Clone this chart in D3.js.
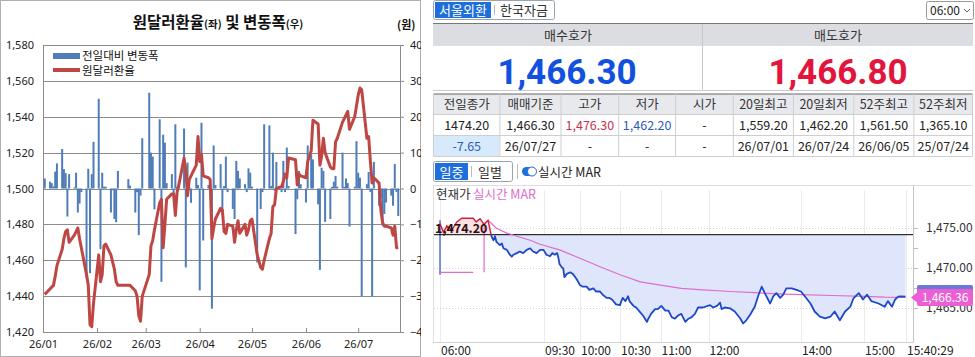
<!DOCTYPE html>
<html>
<head>
<meta charset="utf-8">
<script src="https://cdn.jsdelivr.net/npm/d3@7"></script>
<style>
body { margin: 0; background: #fff; }
svg { display: block; font-family: "Noto Sans CJK KR", "Noto Sans", sans-serif; }
</style>
</head>
<body>
<svg id="chart" width="975" height="357"></svg>
<script>
// ---- daily chart data (2026, trading days) ----
var dates = ["01/02","01/05","01/06","01/07","01/08","01/09","01/12","01/13","01/14","01/15","01/16","01/19","01/20","01/21","01/22","01/23","01/26","01/27","01/28","01/29","01/30",
  "02/02","02/03","02/04","02/05","02/06","02/09","02/10","02/11","02/12","02/13","02/19","02/20","02/23","02/24","02/25","02/26","02/27",
  "03/03","03/04","03/05","03/06","03/09","03/10","03/11","03/12","03/13","03/16","03/17","03/18","03/19","03/20","03/23","03/24","03/25","03/26","03/27","03/30","03/31",
  "04/01","04/02","04/03","04/06","04/07","04/08","04/09","04/10","04/13","04/14","04/15","04/16","04/17","04/20","04/21","04/22","04/23","04/24","04/27","04/28","04/29","04/30",
  "05/01","05/04","05/06","05/07","05/08","05/11","05/12","05/13","05/14","05/15","05/18","05/19","05/20","05/21","05/22","05/26","05/27","05/28","05/29",
  "06/01","06/02","06/04","06/05","06/08","06/09","06/10","06/11","06/12","06/15","06/16","06/17","06/18","06/19","06/22","06/23","06/24","06/25","06/26","06/29","06/30",
  "07/01","07/02","07/03","07/06","07/07","07/08","07/09","07/10","07/13","07/14","07/15","07/16","07/17","07/20","07/21","07/22","07/23","07/24"];
var rate = [1441,1444,1445,1446,1451,1457,1466,1472,1476,1477,1470,1474,1476,1478,1472,1467,1452,1446,1424,1423,1436,
  1463,1448,1452,1468,1469,1463,1459,1455,1448,1446,1446,1446,1443,1440,1429,1426,1440,
  1452,1468,1471,1477,1492,1494,1467,1480,1494,1497,1497,1485,1498,1502,1517,1510,1496,1505,1507,1513,1529,
  1515,1519,1507,1506,1505,1472,1478,1483,1489,1488,1476,1475,1480,1479,1470,1477,1482,1475,1480,1474,1477,1482,
  1483,1463,1456,1455,1460,1472,1475,1490,1491,1500,1501,1504,1508,1506,1517,1516,1502,1508,1507,
  1506,1515,1521,1538,1536,1513,1518,1528,1520,1512,1511,1511,1526,1528,1537,1539,1541,1543,1533,1540,1546,
  1552,1556,1555,1528,1529,1515,1503,1506,1503,1488,1481,1479,1479,1478,1474,1479,1467,1467];
var change = [2.8,1.9,1.5,0.6,4.7,7.0,11.0,5.4,4.3,-7.8,4.0,0.3,4.4,-6.7,-4.2,-1.0,-25.0,5.5,-23.6,4.0,13.0,
  25.0,-16.9,4.4,0.5,0.5,-6.7,-0.5,-8.5,-9.4,4.9,2.6,0.8,-6.7,-1.0,-13.0,-2.0,14.0,
  26.7,10.0,8.9,-5.8,19.3,-26.0,15.0,12.8,1.5,4.0,-1.5,17.9,0.5,2.0,16.7,-22.0,7.2,0.5,-4.0,3.0,1.0,
  -28.4,18.3,-14.5,1.0,-1.0,-33.5,12.0,1.0,6.8,-6.7,0.7,8.9,-1.0,-5.7,-8.5,7.7,4.9,2.8,1.2,-1.0,5.6,4.4,
  0.5,-20.6,-5.7,-1.0,17.9,17.6,0.7,10.0,-0.6,7.4,-1.0,7.7,-1.0,11.4,0.7,-12.7,-3.0,4.9,1.2,
  -3.9,12.0,9.5,8.1,-4.4,-22.7,5.8,4.9,-9.3,-8.5,0.5,1.9,3.5,0.5,10.0,0.5,2.8,1.5,-10.6,0.5,13.2,
  4.4,3.0,-30.0,1.2,4.6,-1.0,-30.0,7.4,-4.8,-2.5,-10.4,-7.1,-3.9,-2.0,-4.8,6.8,-1.0,-7.65];
var rateTicks = [1420,1440,1460,1480,1500,1520,1540,1560,1580];
var changeTicks = [-40,-30,-20,-10,0,10,20,30,40];
var monthTicks = ["26/01","26/02","26/03","26/04","26/05","26/06","26/07"];

// ---- quote panel data ----
var tabs = ["서울외환","한국자금"];
var quoteLabels = ["매수호가","매도호가"];
var quoteValues = ["1,466.30","1,466.80"];
var tableHead = ["전일종가","매매기준","고가","저가","시가","20일최고","20일최저","52주최고","52주최저"];
var tableRow1 = ["1474.20","1,466.30","1,476.30","1,462.20","-","1,559.20","1,462.20","1,561.50","1,365.10"];
var tableRow2 = ["-7.65","26/07/27","-","-","-","26/07/01","26/07/24","26/06/05","25/07/24"];

// ---- intraday data ----
var prevClose = 1474.20;
var askPrice = 1466.80;
var timeTicks = ["06:00","09:30","10:00","10:30","11:00","12:00","14:00","15:00","15:40:29"];
var priceAxis = [1465, 1470, 1475];
var priceTicks = [["06:00",1475.6],["06:07",1474.5],["06:14",1475.3],["06:24",1474.8],["06:34",1475.8],["06:44",1476.25],
  ["07:07",1476.25],["07:13",1475.8],["07:21",1476.2],["07:29",1475.5],["07:37",1476.0],["07:44",1474.0],["07:48",1473.5],
  ["07:51",1474.0],["07:54",1473.3],["08:01",1472.9],["08:05",1473.1],["08:08",1472.5],["08:15",1472.3],["08:21",1471.7],
  ["08:25",1471.45],["08:28",1471.7],["08:35",1471.9],["08:41",1472.1],["08:48",1471.9],["08:55",1472.3],["09:02",1472.5],
  ["09:08",1472.1],["09:15",1471.9],["09:22",1472.3],["09:29",1472.3],["09:32",1471.7],["09:35",1471.5],["09:37",1471.9],
  ["09:39",1471.7],["09:41",1471.9],["09:42",1471.3],["09:43",1470.5],["09:45",1470.1],["09:46",1470.0],["09:47",1468.9],
  ["09:49",1469.3],["09:52",1469.5],["09:54",1469.3],["09:57",1468.7],["10:00",1467.9],["10:02",1467.7],["10:05",1467.7],
  ["10:07",1467.3],["10:10",1467.5],["10:12",1467.1],["10:15",1467.1],["10:17",1466.7],["10:20",1466.3],["10:22",1466.3],
  ["10:24",1466.1],["10:27",1465.5],["10:30",1465.4],["10:31",1465.9],["10:32",1466.3],["10:34",1465.9],["10:36",1466.5],
  ["10:37",1465.9],["10:40",1465.3],["10:42",1465.1],["10:45",1464.5],["10:47",1464.1],["10:50",1463.3],["10:51",1463.7],
  ["10:53",1464.3],["10:56",1464.9],["10:58",1464.9],["11:01",1465.3],["11:06",1464.7],["11:10",1464.7],["11:14",1463.9],
  ["11:18",1463.7],["11:22",1464.1],["11:26",1464.3],["11:31",1463.3],["11:35",1463.7],["11:39",1463.9],["11:43",1464.3],
  ["11:47",1465.1],["11:53",1465.1],["12:02",1465.4],["12:06",1465.1],["12:11",1465.3],["12:15",1465.7],["12:17",1464.9],
  ["12:21",1465.1],["12:28",1465.0],["12:34",1464.6],["12:41",1463.75],["12:45",1463.1],["12:49",1463.5],["12:54",1464.2],
  ["13:00",1465.2],["13:05",1466.7],["13:09",1467.7],["13:13",1466.9],["13:20",1465.6],["13:24",1466.5],["13:28",1466.9],
  ["13:33",1466.3],["13:37",1466.7],["13:41",1467.5],["13:48",1467.5],["13:54",1467.3],["14:00",1467.1],["14:04",1466.45],
  ["14:09",1465.6],["14:13",1464.6],["14:18",1463.95],["14:23",1463.75],["14:28",1463.95],["14:32",1464.6],["14:37",1463.5],
  ["14:42",1464.6],["14:47",1465.2],["14:50",1466.25],["14:55",1466.9],["14:59",1466.1],["15:03",1466.7],["15:07",1465.9],
  ["15:14",1465.6],["15:20",1465.2],["15:23",1465.9],["15:27",1465.2],["15:30",1466.1],["15:33",1466.45],["15:36",1466.5],["15:40",1466.45]];
var marLine = [["07:37",1476.0],["07:44",1475.6],["07:54",1475.0],["08:15",1474.4],["08:35",1474.0],["09:02",1473.5],
  ["09:22",1473.0],["09:43",1472.3],["10:00",1471.25],["10:15",1470.2],["10:30",1469.2],["10:45",1468.3],["11:00",1467.9],
  ["11:26",1467.5],["11:53",1467.3],["12:28",1467.1],["13:00",1466.95],["13:30",1466.8],["14:00",1466.7],["14:30",1466.6],
  ["15:00",1466.5],["15:20",1466.4],["15:40",1466.36]];
var marPre = [["06:00",1469.5],["07:07",1469.5]];
var marJump = ["07:29",1469.5,1475.7];
var openRange = ["06:00",1469.2,1476.0];

var svg = d3.select("#chart");
var defs = svg.append("defs");

// ================= left: daily chart =================
defs.append("clipPath").attr("id", "clipL")
    .append("rect").attr("x", 0).attr("y", 0).attr("width", 421).attr("height", 357);
var left = svg.append("g").attr("clip-path", "url(#clipL)");

var parseDay = d3.timeParse("%y/%m/%d");
var daily = dates.map(function(d, i) {
    return { date: parseDay("26/" + d), rate: rate[i], chg: change[i] };
});

var x = d3.scaleTime()
    .domain([new Date(2026, 0, 1), new Date(2026, 6, 25)])
    .range([43, 400]);
var yL = d3.scaleLinear().domain([1420, 1580]).range([332, 45]);
var yR = d3.scaleLinear().domain([-40, 40]).range([332, 45]);

left.append("rect")
    .attr("x", 0.5).attr("y", 0.5).attr("width", 420).attr("height", 356)
    .attr("fill", "#fff").attr("stroke", "#b0b0b0");

// gridlines
left.selectAll(".grid").data(rateTicks).enter().append("line")
    .attr("x1", 43).attr("x2", 400)
    .attr("y1", function(d) { return Math.round(yL(d)) + 0.5; })
    .attr("y2", function(d) { return Math.round(yL(d)) + 0.5; })
    .attr("stroke", "#8c8c8c").attr("stroke-width", 1);
left.append("line").attr("x1", 43.5).attr("x2", 43.5).attr("y1", 45).attr("y2", 332)
    .attr("stroke", "#8c8c8c");

// bars
left.selectAll(".bar").data(daily).enter().append("rect")
    .attr("x", function(d) { return x(d.date) - 1; })
    .attr("width", 2)
    .attr("y", function(d) { return Math.min(yR(d.chg), yR(0)); })
    .attr("height", function(d) { return Math.abs(yR(d.chg) - yR(0)); })
    .attr("fill", "#4f7db8");

// line
left.append("path").datum(daily)
    .attr("fill", "none").attr("stroke", "#be4744").attr("stroke-width", 3)
    .attr("stroke-linejoin", "round")
    .attr("d", d3.line().x(function(d) { return x(d.date); }).y(function(d) { return yL(d.rate); }));

// axes
var axL = left.append("g").attr("transform", "translate(43,0)")
    .call(d3.axisLeft(yL).tickValues(rateTicks).tickFormat(d3.format(",")).tickSize(0).tickPadding(9));
var axR = left.append("g").attr("transform", "translate(400,0)")
    .call(d3.axisRight(yR).tickValues(changeTicks).tickSize(4).tickPadding(6));
var axB = left.append("g").attr("transform", "translate(0,332)")
    .call(d3.axisBottom(x)
        .tickValues(monthTicks.map(function(m) { return parseDay(m + "/01"); }))
        .tickFormat(d3.timeFormat("%y/%m"))
        .tickSizeInner(-4).tickSizeOuter(0).tickPadding(8));
[axL, axR, axB].forEach(function(a) {
    a.selectAll("text").attr("font-size", 11).attr("fill", "#222")
        .attr("font-family", "'Noto Sans', sans-serif");
    a.selectAll("line").attr("stroke", "#8c8c8c");
});
axL.select(".domain").remove();
axB.select(".domain").attr("stroke", "#8c8c8c");
axR.select(".domain").attr("stroke", "#8c8c8c");

// title
var title = left.append("text").attr("x", 218).attr("y", 28)
    .attr("text-anchor", "middle").attr("font-weight", "bold").attr("font-size", 15.5).attr("fill", "#111");
title.append("tspan").text("원달러환율");
title.append("tspan").attr("font-size", 10.5).text("(좌)");
title.append("tspan").text(" 및 변동폭");
title.append("tspan").attr("font-size", 10.5).text("(우)");
left.append("text").attr("x", 397).attr("y", 29).attr("font-weight", "bold")
    .attr("font-size", 11).attr("fill", "#111").text("(원)");

// legend
left.append("rect").attr("x", 53).attr("y", 53).attr("width", 27).attr("height", 6).attr("fill", "#4f7db8");
left.append("line").attr("x1", 53).attr("x2", 80).attr("y1", 70).attr("y2", 70)
    .attr("stroke", "#be4744").attr("stroke-width", 4);
left.append("text").attr("x", 82).attr("y", 60).attr("font-size", 11.5).attr("fill", "#111").text("전일대비 변동폭");
left.append("text").attr("x", 82).attr("y", 75).attr("font-size", 11.5).attr("fill", "#111").text("원달러환율");

// ================= right: quote panel =================
var blue = "#1e6fd9";
var panel = svg.append("g");

// tabs
panel.append("rect").attr("x", 433.5).attr("y", 0.5).attr("width", 121).attr("height", 19).attr("rx", 2)
    .attr("fill", "#fff").attr("stroke", "#9aa4b0");
panel.append("rect").attr("x", 435).attr("y", 2).attr("width", 56).attr("height", 16).attr("fill", blue);
panel.append("line").attr("x1", 494.5).attr("x2", 494.5).attr("y1", 5).attr("y2", 15).attr("stroke", "#bbb");
panel.selectAll(".tab").data(tabs).enter().append("text")
    .attr("x", function(d, i) { return i ? 524 : 463; }).attr("y", 15)
    .attr("text-anchor", "middle").attr("font-size", 13)
    .attr("fill", function(d, i) { return i ? "#333" : "#fff"; })
    .text(function(d) { return d; });
panel.append("rect").attr("x", 926.5).attr("y", 1.5).attr("width", 47).attr("height", 18).attr("rx", 2)
    .attr("fill", "#fff").attr("stroke", "#999");
panel.append("text").attr("x", 930).attr("y", 15).attr("font-size", 12).attr("fill", "#222").text("06:00");
panel.append("path").attr("d", "M964,9 l3,3 l3,-3").attr("fill", "none").attr("stroke", "#666");

// bid / ask
panel.append("rect").attr("x", 433).attr("y", 24).attr("width", 540).attr("height", 22).attr("fill", "#dcdde2");
panel.append("line").attr("x1", 433).attr("x2", 973).attr("y1", 23.5).attr("y2", 23.5).attr("stroke", "#777");
panel.append("line").attr("x1", 433).attr("x2", 973).attr("y1", 90.5).attr("y2", 90.5).attr("stroke", "#ccc");
panel.append("line").attr("x1", 702.5).attr("x2", 702.5).attr("y1", 24).attr("y2", 90).attr("stroke", "#c8c8c8");
panel.selectAll(".qlab").data(quoteLabels).enter().append("text")
    .attr("x", function(d, i) { return i ? 838 : 568; }).attr("y", 40)
    .attr("text-anchor", "middle").attr("font-size", 13).attr("fill", "#333")
    .text(function(d) { return d; });
panel.selectAll(".qval").data(quoteValues).enter().append("text")
    .attr("x", function(d, i) { return i ? 838 : 567; }).attr("y", 84)
    .attr("text-anchor", "middle").attr("font-size", 35).attr("font-weight", "bold")
    .attr("font-family", "Roboto, sans-serif")
    .attr("fill", function(d, i) { return i ? "#e2163c" : "#1250e0"; })
    .text(function(d) { return d; });

// table
var colEdges = [433.5, 499.9, 561, 618.7, 675.6, 733.3, 793.4, 853.8, 913.9, 972.5];
var rowTops = [94, 114.5, 135.5, 156.5];
var table = panel.append("g");
table.append("rect").attr("x", 433.5).attr("y", 94).attr("width", 539).attr("height", 20.5).attr("fill", "#e8e9ed");
table.append("rect").attr("x", 434).attr("y", 135.5).attr("width", 65.5).attr("height", 21).attr("fill", "#d6eafb");
table.selectAll(".hl").data(rowTops).enter().append("line")
    .attr("x1", 433.5).attr("x2", 972.5)
    .attr("y1", function(d) { return d; }).attr("y2", function(d) { return d; })
    .attr("stroke", function(d, i) { return i ? "#cfcfcf" : "#666"; });
table.selectAll(".vl").data(colEdges).enter().append("line")
    .attr("x1", function(d) { return d; }).attr("x2", function(d) { return d; })
    .attr("y1", 94).attr("y2", 156.5).attr("stroke", "#cfcfcf");
function cellRow(vals, y, colorFn) {
    table.selectAll(null).data(vals).enter().append("text")
        .attr("x", function(d, i) { return (colEdges[i] + colEdges[i + 1]) / 2; })
        .attr("y", y).attr("text-anchor", "middle").attr("font-size", 12.5)
        .attr("fill", colorFn).text(function(d) { return d; });
}
cellRow(tableHead, 109, function() { return "#333"; });
cellRow(tableRow1, 130, function(d, i) { return i === 2 ? "#c4314b" : i === 3 ? "#2d5bb8" : "#222"; });
cellRow(tableRow2, 151, function(d, i) { return i === 0 ? "#2d5bb8" : "#222"; });

// intraday toggles
panel.append("rect").attr("x", 433.5).attr("y", 161.5).attr("width", 79).attr("height", 20).attr("rx", 2)
    .attr("fill", "#fff").attr("stroke", "#9aa4b0");
panel.append("rect").attr("x", 435).attr("y", 163).attr("width", 33).attr("height", 17).attr("fill", blue);
panel.append("line").attr("x1", 471.5).attr("x2", 471.5).attr("y1", 166).attr("y2", 177).attr("stroke", "#bbb");
panel.append("text").attr("x", 451.5).attr("y", 177).attr("text-anchor", "middle").attr("font-size", 13).attr("fill", "#fff").text("일중");
panel.append("text").attr("x", 490).attr("y", 177).attr("text-anchor", "middle").attr("font-size", 13).attr("fill", "#333").text("일별");
panel.append("line").attr("x1", 517.5).attr("x2", 517.5).attr("y1", 164).attr("y2", 179).attr("stroke", "#bbb");
panel.append("rect").attr("x", 522).attr("y", 167).attr("width", 14).attr("height", 9).attr("rx", 4.5).attr("fill", blue);
panel.append("circle").attr("cx", 532).attr("cy", 171.5).attr("r", 4.5).attr("fill", "#fff").attr("stroke", blue);
panel.append("text").attr("x", 538).attr("y", 177).attr("font-size", 12.5).attr("fill", "#222").text("실시간 MAR");

// ================= intraday chart =================
function parseT(s) {
    return (s.length > 5 ? d3.timeParse("%H:%M:%S") : d3.timeParse("%H:%M"))(s);
}
var xI = d3.scaleTime()
    .domain(timeTicks.map(parseT))
    .range([440, 544, 580, 620, 660.5, 708.5, 801, 864, 906]);
var yI = d3.scaleLinear().domain([1465, 1475]).range([308.3, 228.3]);
var yBase = yI(prevClose);
var plotBottom = 342;

var intra = svg.append("g");
intra.append("line").attr("x1", 433).attr("x2", 973).attr("y1", 185.5).attr("y2", 185.5).attr("stroke", "#ddd");
intra.append("line").attr("x1", 433.5).attr("x2", 433.5).attr("y1", 186).attr("y2", plotBottom).attr("stroke", "#e0e0e0");
intra.selectAll(".vg").data(timeTicks).enter().append("line")
    .attr("x1", function(d) { return Math.round(xI(parseT(d))) + 0.5; })
    .attr("x2", function(d) { return Math.round(xI(parseT(d))) + 0.5; })
    .attr("y1", 190).attr("y2", plotBottom).attr("stroke", "#ebebeb");
intra.selectAll(".hg").data(priceAxis).enter().append("line")
    .attr("x1", 434).attr("x2", 913)
    .attr("y1", function(d) { return Math.round(yI(d)) + 0.5; })
    .attr("y2", function(d) { return Math.round(yI(d)) + 0.5; })
    .attr("stroke", "#d4d4d4").attr("stroke-dasharray", "1,2");
intra.append("line").attr("x1", 433).attr("x2", 914).attr("y1", plotBottom + 0.5).attr("y2", plotBottom + 0.5).attr("stroke", "#d0d0d0");
intra.append("line").attr("x1", 913.5).attr("x2", 913.5).attr("y1", 186).attr("y2", plotBottom).attr("stroke", "#c4c4c4");

// time labels
intra.selectAll(".tl").data(timeTicks).enter().append("text")
    .attr("x", function(d) { return xI(parseT(d)) + 1; })
    .attr("y", 355).attr("font-size", 12).attr("fill", "#222")
    .text(function(d) { return d; });

// price axis labels
intra.selectAll(".pl").data(priceAxis).enter().append("text")
    .attr("x", 926).attr("y", function(d) { return yI(d) + 4; })
    .attr("font-size", 12).attr("fill", "#333")
    .text(function(d) { return d3.format(",.2f")(d); });
intra.selectAll(".pt").data([1465, 1467.5, 1470, 1472.5, 1475]).enter().append("line")
    .attr("x1", 914).attr("x2", 918)
    .attr("y1", function(d) { return Math.round(yI(d)) + 0.5; })
    .attr("y2", function(d) { return Math.round(yI(d)) + 0.5; })
    .attr("stroke", "#bbb");

intra.append("text").attr("x", 436).attr("y", 199).attr("font-size", 12.5).attr("fill", "#333").text("현재가");
intra.append("text").attr("x", 473).attr("y", 199).attr("font-size", 12.5).attr("fill", "#e06ccf").text("실시간 MAR");

// area + price line, red above previous close, blue below
defs.append("clipPath").attr("id", "above").append("rect")
    .attr("x", 430).attr("y", 186).attr("width", 490).attr("height", yBase - 186);
defs.append("clipPath").attr("id", "below").append("rect")
    .attr("x", 430).attr("y", yBase).attr("width", 490).attr("height", plotBottom - yBase);

var area = d3.area()
    .x(function(d) { return xI(parseT(d[0])); })
    .y0(yBase)
    .y1(function(d) { return yI(d[1]); });
var pline = d3.line()
    .x(function(d) { return xI(parseT(d[0])); })
    .y(function(d) { return yI(d[1]); });

intra.append("path").datum(priceTicks).attr("d", area).attr("fill", "#fbe0e4").attr("clip-path", "url(#above)");
intra.append("path").datum(priceTicks).attr("d", area).attr("fill", "#dfe5fb").attr("clip-path", "url(#below)");

// pre-market marks
intra.append("line")
    .attr("x1", xI(parseT(openRange[0]))).attr("x2", xI(parseT(openRange[0])))
    .attr("y1", yI(openRange[1])).attr("y2", yI(openRange[2]))
    .attr("stroke", "#2b50c8").attr("stroke-width", 1.2);
intra.append("path").datum(marPre).attr("d", pline).attr("fill", "none").attr("stroke", "#e06ccf").attr("stroke-width", 1.2);
intra.append("line")
    .attr("x1", xI(parseT(marJump[0]))).attr("x2", xI(parseT(marJump[0])))
    .attr("y1", yI(marJump[1])).attr("y2", yI(marJump[2]))
    .attr("stroke", "#e06ccf").attr("stroke-width", 1.2);

// previous close line
intra.append("line").attr("x1", 434).attr("x2", 913).attr("y1", yBase).attr("y2", yBase)
    .attr("stroke", "#000").attr("stroke-width", 1);

intra.append("path").datum(marLine).attr("d", pline).attr("fill", "none")
    .attr("stroke", "#e06ccf").attr("stroke-width", 1.2);
intra.append("path").datum(priceTicks).attr("d", pline).attr("fill", "none")
    .attr("stroke", "#d0203a").attr("stroke-width", 1.4).attr("clip-path", "url(#above)");
intra.append("path").datum(priceTicks).attr("d", pline).attr("fill", "none")
    .attr("stroke", "#1c48c9").attr("stroke-width", 1.8).attr("stroke-linejoin", "round")
    .attr("clip-path", "url(#below)");

intra.append("text").attr("x", 435).attr("y", yBase - 2).attr("font-size", 12.5).attr("font-weight", "bold")
    .attr("fill", "#2a0f0f").text(d3.format(",.2f")(prevClose));

// ask / MAR labels on the price axis
var lastM = marLine[marLine.length - 1][1];
intra.append("rect").attr("x", 917).attr("y", yI(askPrice) - 9).attr("width", 56).attr("height", 17)
    .attr("rx", 2).attr("fill", "#6a78d8");
var ym = yI(lastM);
intra.append("path").attr("d", "M911," + ym + " L917," + (ym - 5) + " L917," + (ym + 5) + "Z").attr("fill", "#ec5fd4");
intra.append("rect").attr("x", 917).attr("y", ym - 8.5).attr("width", 56).attr("height", 17)
    .attr("rx", 2).attr("fill", "#ec5fd4");
intra.append("text").attr("x", 945).attr("y", ym + 4.5).attr("text-anchor", "middle")
    .attr("font-size", 12).attr("fill", "#fff").text(d3.format(",.2f")(lastM));
</script>
</body>
</html>
